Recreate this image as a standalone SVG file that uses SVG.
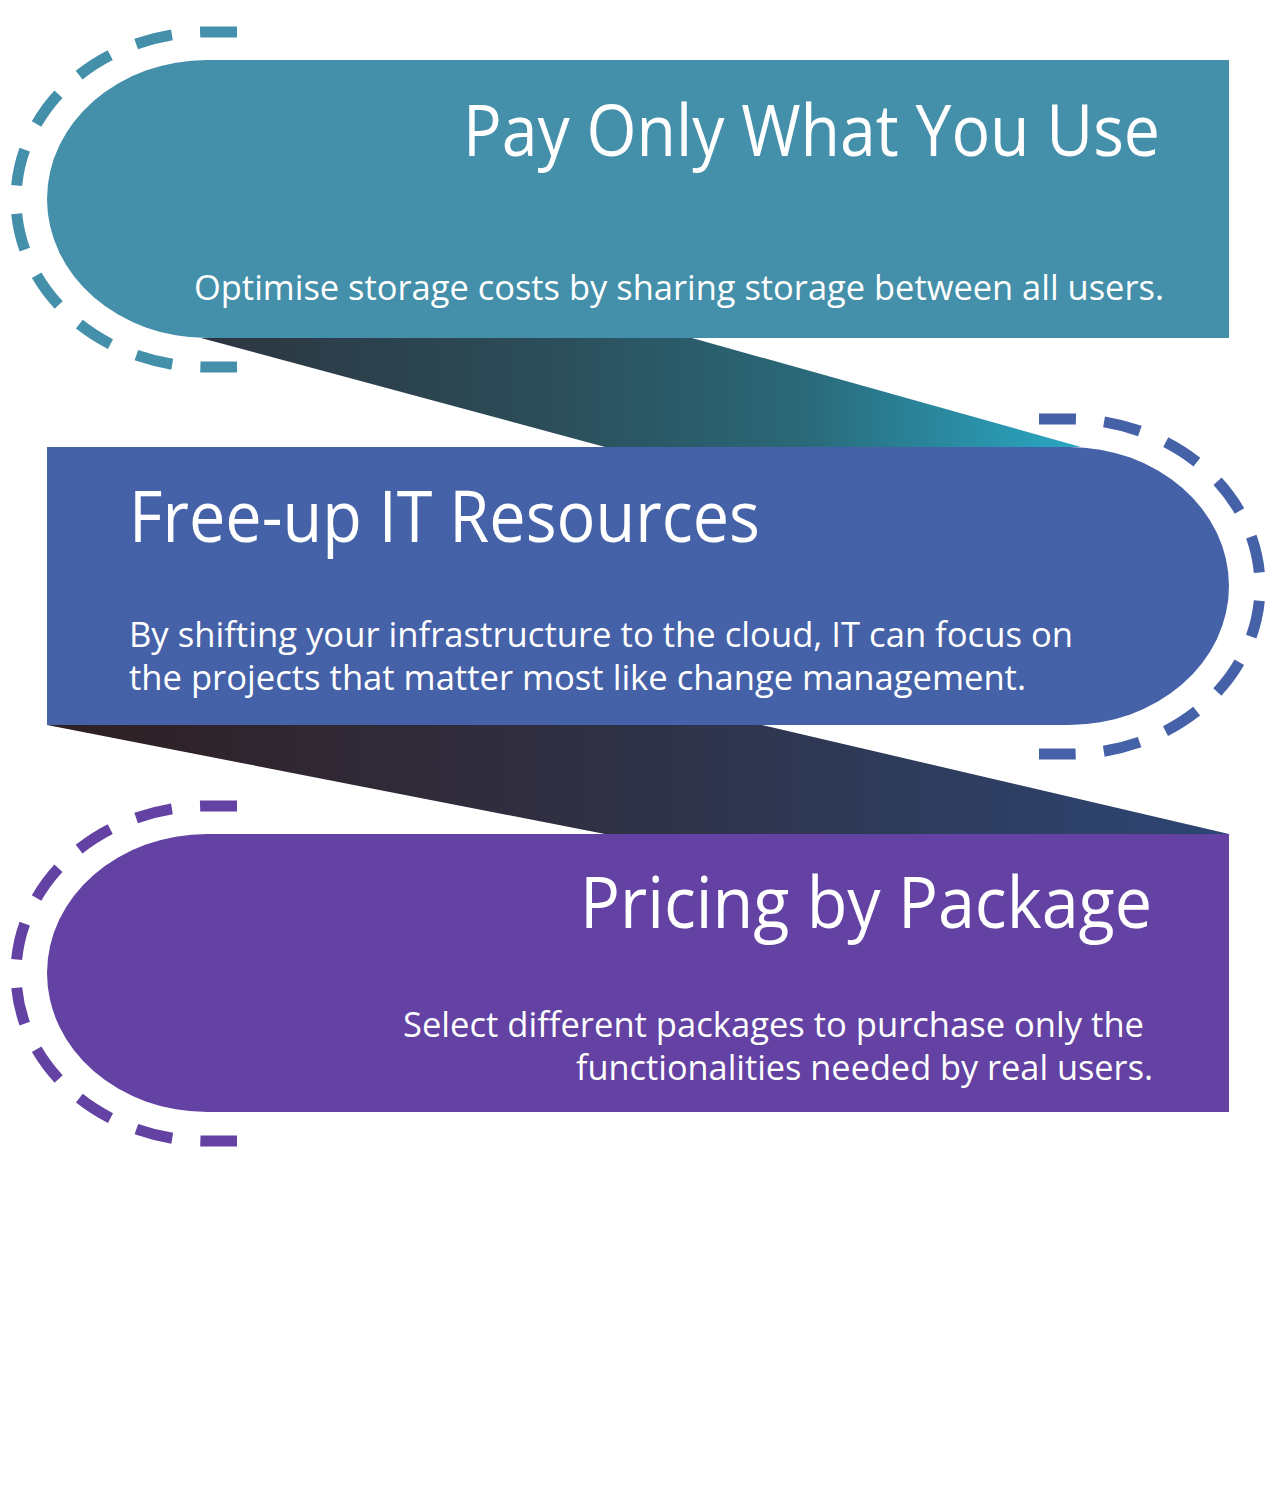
<svg xmlns="http://www.w3.org/2000/svg" width="1287" height="1508" viewBox="0 0 1287 1508">
<style>
.title{font-family:"Open Sans","Noto Sans","Liberation Sans",sans-serif;font-size:71px;fill:#ffffff}
.body{font-family:"Open Sans","Noto Sans","Liberation Sans",sans-serif;font-size:34px;fill:#ffffff}
.ring{fill:none;stroke-width:11;stroke-dasharray:37 28.2}
</style>
<defs>
<linearGradient id="g1" gradientUnits="userSpaceOnUse" x1="201" y1="0" x2="1081" y2="0">
<stop offset="0" stop-color="#2c3540"/>
<stop offset="0.4" stop-color="#2b4e5a"/>
<stop offset="0.68" stop-color="#2a6878"/>
<stop offset="1" stop-color="#2aa8c4"/>
</linearGradient>
<linearGradient id="g2" gradientUnits="userSpaceOnUse" x1="47" y1="0" x2="1229" y2="0">
<stop offset="0" stop-color="#2e1f22"/>
<stop offset="0.3" stop-color="#302a38"/>
<stop offset="0.5" stop-color="#2f3247"/>
<stop offset="1" stop-color="#2d4674"/>
</linearGradient>
</defs>
<rect width="1287" height="1508" fill="#ffffff"/>
<g id="connectors">
<polygon points="201,338 692,338 1081,447 605,447" fill="url(#g1)"/>
<polygon points="47,725 762,725 1229,834 605,834" fill="url(#g2)"/>
</g>
<g id="node1">
<path d="M1229,60 H207 A160,139 0 0 0 207,338 H1229 Z" fill="#448fa9"/>
<path class="ring" stroke="#448fa9" d="M237,32 H207 A191,167.5 0 0 0 207,367 H237"/>
<text class="title" x="463" y="156" textLength="697" lengthAdjust="spacingAndGlyphs">Pay Only What You Use</text>
<text class="body" x="194" y="300" textLength="970" lengthAdjust="spacingAndGlyphs">Optimise storage costs by sharing storage between all users.</text>
</g>
<g id="node2">
<path d="M47,447 H1069 A160,139 0 0 1 1069,725 H47 Z" fill="#4561a8"/>
<path class="ring" stroke="#4561a8" d="M1039,419 H1069 A191,167.5 0 0 1 1069,754 H1039"/>
<text class="title" x="129" y="542" textLength="631" lengthAdjust="spacingAndGlyphs">Free-up IT Resources</text>
<text class="body" x="129" y="647" textLength="944" lengthAdjust="spacingAndGlyphs">By shifting your infrastructure to the cloud,  IT can focus on</text>
<text class="body" x="129" y="690" textLength="897" lengthAdjust="spacingAndGlyphs">the projects that matter most like change management.</text>
</g>
<g id="node3">
<path d="M1229,834 H207 A160,139 0 0 0 207,1112 H1229 Z" fill="#6342a3"/>
<path class="ring" stroke="#6342a3" d="M237,806 H207 A191,167.5 0 0 0 207,1141 H237"/>
<text class="title" x="580" y="928" textLength="572" lengthAdjust="spacingAndGlyphs">Pricing by Package</text>
<text class="body" x="403" y="1037" textLength="741" lengthAdjust="spacingAndGlyphs">Select different packages to purchase only the</text>
<text class="body" x="576" y="1080" textLength="577" lengthAdjust="spacingAndGlyphs">functionalities needed by real users.</text>
</g>
</svg>
